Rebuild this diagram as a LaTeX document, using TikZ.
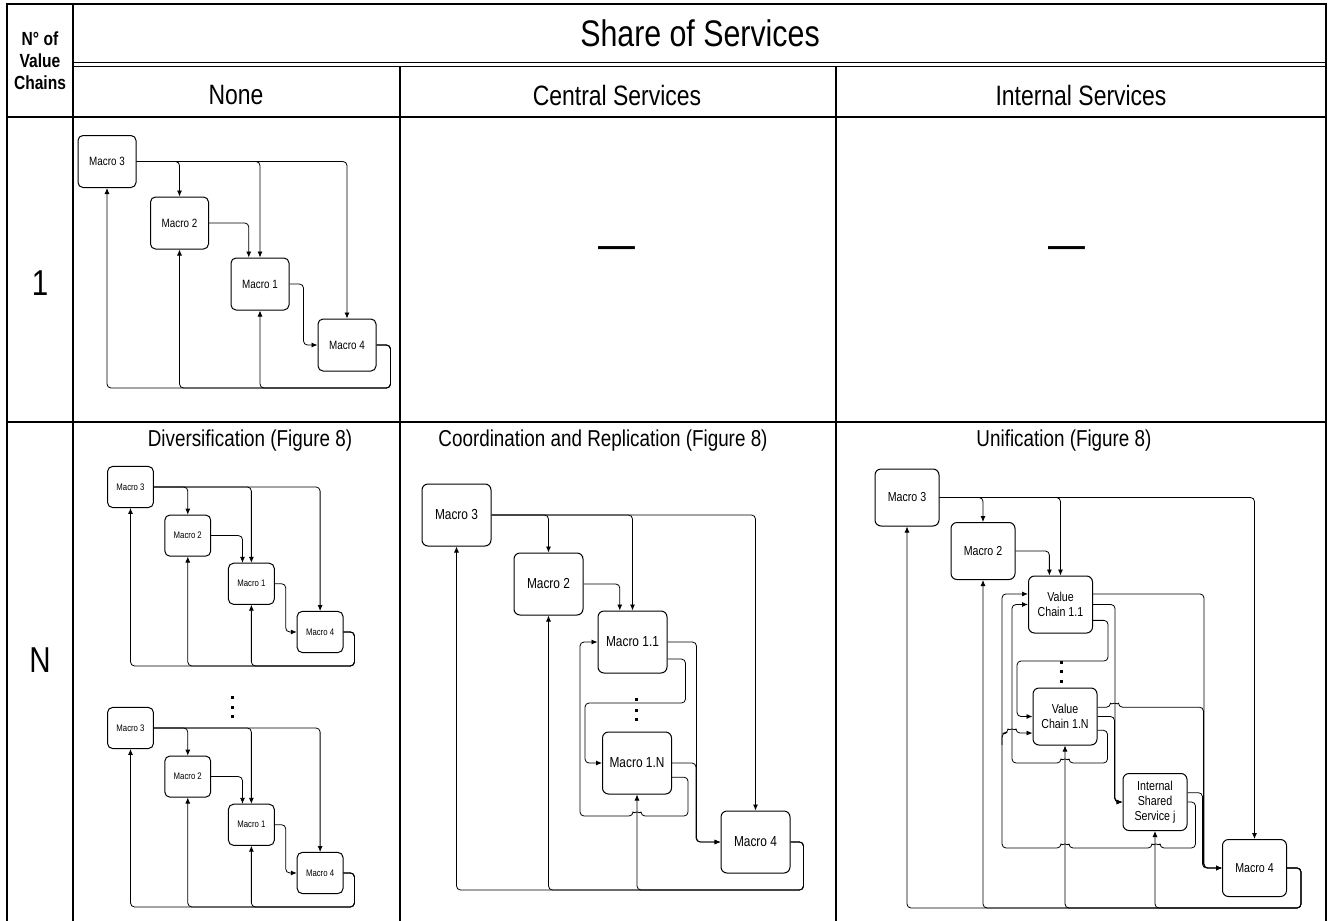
\documentclass[tikz,border=0pt]{standalone}
\usepackage{fontspec}
\setmainfont[FakeStretch=0.82]{Liberation Sans}
\usetikzlibrary{arrows.meta, calc, positioning}

% one small value chain: Macro 3, Macro 2, Macro 1, Macro 4
\newcommand{\chainpic}[3]{%
  \begin{scope}[shift={#2}, scale=#3, every node/.append style={transform shape}]
    \node[macro] (#1m3) at (0,0) {Macro 3};
    \node[macro] (#1m2) at (72.5,61.5) {Macro 2};
    \node[macro] (#1m1) at (153,122.5) {Macro 1};
    \node[macro] (#1m4) at (240,183.5) {Macro 4};
    \coordinate (#1fb) at (0,226.5);
    \draw[link] (#1m3.east) -| (#1m4.north);
    \draw[link] (#1m3.east) -| (#1m2.north);
    \draw[link] (#1m3.east) -| (#1m1.north);
    \draw[link] (#1m2.east) -| (#1m1.113);
    \draw[link] (#1m1.east) -- ++(14,0) |- (#1m4.west);
    % feedback to the top
    \foreach \nd in {m3,m2,m1}
      \draw[link] (#1m4.east) -- ++(14,0) |- (#1\nd |- #1fb) -- (#1\nd.south);
  \end{scope}}

\begin{document}
\begin{tikzpicture}[x=1pt, y=-1pt,
    macro/.style={draw, rounded corners=5pt, line width=1pt, minimum width=58pt, minimum height=52pt, inner sep=1pt, font=\fontsize{12}{14}\selectfont},
    cbox/.style={draw, rounded corners=6pt, line width=1pt, minimum width=69pt, minimum height=62pt, inner sep=1pt, font=\fontsize{14.5}{17}\selectfont},
    ubox/.style={draw, rounded corners=6pt, line width=1pt, minimum width=64pt, minimum height=57pt, inner sep=1pt, align=center, font=\fontsize{13}{15}\selectfont},
    link/.style={-{Latex[length=6pt,width=5pt]}, line width=0.8pt, rounded corners=4pt},
    gridline/.style={line width=1.5pt},
    head/.style={font=\fontsize{28}{32}\selectfont},
    celltitle/.style={font=\fontsize{23}{26}\selectfont},
    rowtag/.style={font=\fontsize{36}{40}\selectfont},
    dashtext/.style={font=\fontsize{45}{48}\selectfont},
]
\useasboundingbox (0,0) rectangle (1331,921);

% table
\draw[gridline] (7,925) -- (7,4) -- (1326,4) -- (1326,925);
\draw[gridline] (73,4) -- (73,925);
\draw[line width=1pt] (73,62.5) -- (1326,62.5);
\draw[line width=1pt] (73,66.5) -- (1326,66.5);
\draw[gridline] (7,117) -- (1326,117);
\draw[gridline] (7,422) -- (1326,422);
\draw[gridline] (400,66.5) -- (400,925);
\draw[gridline] (836,66.5) -- (836,925);

\node[font=\bfseries\fontsize{19}{22}\selectfont, align=center] (nvc) at (40,61) {N° of\\Value\\Chains};
\node[font=\fontsize{37}{40}\selectfont] (share) at (700,33) {Share of Services};
\node[head] (none) at (236,95) {None};
\node[head] (central) at (617,95) {Central Services};
\node[head] (internal) at (1081,95) {Internal Services};
\node[rowtag] (one) at (40,283) {1};
\node[rowtag] (many) at (40,660) {N};
\node[dashtext] (cdash) at (617,253) {—};
\node[dashtext] (idash) at (1067,253) {—};
\node[celltitle] (divt) at (250,441) {Diversification (Figure 8)};
\node[celltitle] (coot) at (603,441) {Coordination and Replication (Figure 8)};
\node[celltitle] (unit) at (1064,441) {Unification (Figure 8)};

% none / diversification
\chainpic{s}{(107,161.5)}{1}
\chainpic{da}{(130.5,487)}{0.79}
\chainpic{db}{(130.5,728)}{0.79}
\foreach \y in {697,707,716}
  \fill (230.5,\y-1.5) rectangle ++(3,3);

% coordination and replication
\node[cbox] (co3) at (456.5,515) {Macro 3};
\node[cbox] (co2) at (548.5,584) {Macro 2};
\node[cbox] (co11) at (632.5,642) {Macro 1.1};
\node[cbox] (co1n) at (637,763) {Macro 1.N};
\node[cbox] (co4) at (755.5,842) {Macro 4};
\coordinate (cofb) at (0,890);
\coordinate (coa) at (585,703);
\coordinate (cob) at (580,816);
\draw[link] (co3.east) -| (co4.north);
\draw[link] (co3.east) -| (co2.north);
\draw[link] (co3.east) -| (co11.north);
\draw[link] (co2.east) -| (co11.112);
\draw[link] (co11.east) -- ++(29,0) |- (co4.west);
\draw[link] (co1n.east) -- ++(24,0) |- (co4.west);
\draw[link] (co11.-26) -- ++(18,0) |- (coa) |- (co1n.west);
\draw[link] (co1n.-22) -- ++(16,0) |- (641,816) arc[start angle=0, end angle=-180, radius=4] -- (cob) |- (co11.west);
\foreach \nd in {co3,co2,co1n}
  \draw[link] (co4.east) -- ++(13,0) |- (\nd |- cofb) -- (\nd.south);
\foreach \y in {699,710,719}
  \fill (634.5,\y-1.5) rectangle ++(3,3);

% unification
\node[ubox] (un3) at (907,497.5) {Macro 3};
\node[ubox] (un2) at (983,551) {Macro 2};
\node[ubox] (unv1) at (1060.5,604.5) {Value\\Chain 1.1};
\node[ubox] (unvn) at (1065,716.5) {Value\\Chain 1.N};
\node[ubox] (unss) at (1155,802) {Internal\\Shared\\Service j};
\node[ubox] (un4) at (1254.5,868) {Macro 4};
\coordinate (unfb) at (0,908);
\coordinate (una) at (1017,661);
\coordinate (unb) at (1012,763);
\coordinate (unc) at (1002,848);
\coordinate (und) at (1002,745);
\draw[link] (un3.east) -| (un4.north);
\draw[link] (un3.east) -| (un2.north);
\draw[link] (un3.east) -| (unv1.north);
\draw[link] (un2.east) -| (unv1.111);
\draw[link] (unv1.18) -- ++(111,0) |- (un4.west);
\draw[link] (unvn.16) -- ++(13,0) arc[start angle=180, end angle=360, radius=4] -- ++(85,0) |- (un4.west);
\draw[link] (unss.16) -- ++(15,0) |- (un4.west);
\draw[link] (unv1.east) -- ++(22,0) |- (unss.west);
\draw[link] (unvn.east) -- ++(17,0) |- (unss.west);
\draw[link] (unv1.-26) -- ++(15,0) |- (una) |- (unvn.west);
\draw[link] (unvn.-23) -- ++(10,0) |- (1069,763) arc[start angle=0, end angle=-180, radius=4] -- (unb) |- (unv1.west);
\draw[link] (unss.east) -- ++(8,0) |- (1160,848) arc[start angle=0, end angle=-180, radius=4] -- (1069,848) arc[start angle=0, end angle=-180, radius=4] -- (unc) |- (unv1.162);
\draw[link] (und) |- (1008,733) arc[start angle=180, end angle=360, radius=4] -- (unvn.207);
\foreach \nd in {un3,un2,unvn,unss}
  \draw[link] (un4.east) -- ++(14,0) |- (\nd |- unfb) -- (\nd.south);
\foreach \y in {662,671,681}
  \fill (1059.5,\y-1.5) rectangle ++(3,3);
\end{tikzpicture}
\end{document}
